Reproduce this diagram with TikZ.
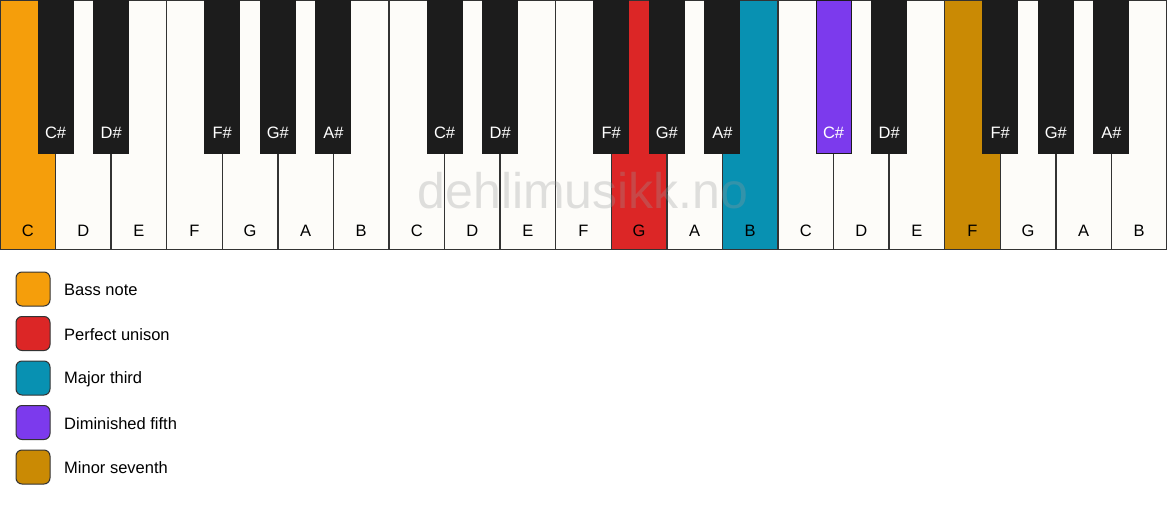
\documentclass[tikz,border=0pt]{standalone}
\usepackage{fontspec}
\setmainfont{Liberation Sans}
\definecolor{keywhite}{HTML}{FDFCF9}
\definecolor{keyblack}{HTML}{1C1C1C}
\definecolor{keyline}{HTML}{333333}
\definecolor{cbass}{HTML}{F59E0B}
\definecolor{cunison}{HTML}{DC2626}
\definecolor{cthird}{HTML}{0891B2}
\definecolor{cfifth}{HTML}{7C3AED}
\definecolor{cseventh}{HTML}{CA8A04}
\definecolor{wmark}{HTML}{999999}
\begin{document}
\begin{tikzpicture}[x=1pt,y=-1pt,
  whitekey/.style={draw=keyline, line width=1.3pt, minimum width=55.571pt, minimum height=249pt, anchor=north west, inner sep=0pt, outer sep=0pt},
  blackkey/.style={draw=keyblack, line width=1pt, minimum width=35pt, minimum height=153pt, anchor=north, inner sep=0pt, outer sep=0pt},
  wlabel/.style={font=\fontsize{16.5}{19}\selectfont, text=black},
  blabel/.style={font=\fontsize{16.5}{19}\selectfont, text=white},
  legbox/.style={draw=keyblack!90, line width=1pt, rounded corners=6pt, minimum width=34pt, minimum height=34pt, inner sep=0pt},
  legtext/.style={font=\fontsize{16.5}{19}\selectfont, anchor=west, inner sep=0pt}
]
\useasboundingbox (0,0) rectangle (1167,506);
\fill[white] (0,0) rectangle (1167,506);
% white keys
\foreach \i/\n/\c in {0/C/cbass,1/D/keywhite,2/E/keywhite,3/F/keywhite,4/G/keywhite,5/A/keywhite,6/B/keywhite,
  7/C/keywhite,8/D/keywhite,9/E/keywhite,10/F/keywhite,11/G/cunison,12/A/keywhite,13/B/cthird,
  14/C/keywhite,15/D/keywhite,16/E/keywhite,17/F/cseventh,18/G/keywhite,19/A/keywhite,20/B/keywhite}{
  \node[whitekey, fill=\c] (w\i) at ({\i*55.571},0.6) {};
  \node[wlabel] (wl\i) at ([yshift=19pt]w\i.south) {\n};
}
% black keys
\foreach \i/\n/\c in {1/C\#/keyblack,2/D\#/keyblack,4/F\#/keyblack,5/G\#/keyblack,6/A\#/keyblack,
  8/C\#/keyblack,9/D\#/keyblack,11/F\#/keyblack,12/G\#/keyblack,13/A\#/keyblack,
  15/C\#/cfifth,16/D\#/keyblack,18/F\#/keyblack,19/G\#/keyblack,20/A\#/keyblack}{
  \node[blackkey, fill=\c] (b\i) at ({\i*55.571},0) {};
  \node[blabel] (bl\i) at ({\i*55.571},133) {\n};
}
% watermark
\node[font=\fontsize{50}{56}\selectfont, text=wmark, text opacity=0.3, anchor=base] (wm) at (583,208) {dehlimusikk.no};
% legend
\foreach \k/\c/\t in {0/cbass/Bass note,1/cunison/Perfect unison,2/cthird/Major third,3/cfifth/Diminished fifth,4/cseventh/Minor seventh}{
  \node[legbox, fill=\c] (lb\k) at (33,{289+\k*44.5}) {};
  \node[legtext] (lt\k) at (64,{290+\k*44.5}) {\t};
}
\end{tikzpicture}
\end{document}
